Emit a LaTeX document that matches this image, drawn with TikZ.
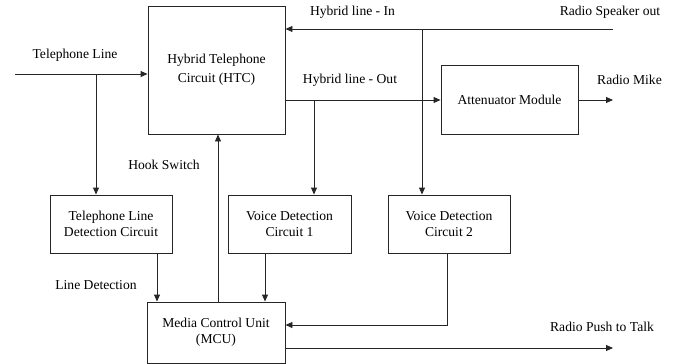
\documentclass[tikz,border=0pt]{standalone}
\usepackage{fontspec}
\setmainfont{Liberation Serif}
\usetikzlibrary{arrows.meta,calc}
\begin{document}
\begin{tikzpicture}[x=1pt,y=-1pt,
  font=\fontsize{13.6}{16}\selectfont,
  block/.style={draw=black!85, line width=0.9pt, fill=white, align=center, inner sep=0pt},
  lbl/.style={inner sep=0pt, anchor=center},
  wire/.style={draw=black!85, line width=0.9pt},
  arr/.style={wire, -{Triangle[length=7pt,width=6pt]}}]
\useasboundingbox (0,0) rectangle (678,364);

% blocks
\node[block, minimum width=137pt, minimum height=128pt, font=\fontsize{13.6}{19}\selectfont] (htc) at (216.5,70) {Hybrid Telephone\\Circuit (HTC)};
\node[block, minimum width=137pt, minimum height=69pt] (att) at (509.5,99.5) {Attenuator Module};
\node[block, minimum width=122pt, minimum height=58pt] (tld) at (111,224) {Telephone Line\\Detection Circuit};
\node[block, minimum width=123pt, minimum height=58pt] (vdc1) at (289.5,224) {Voice Detection\\Circuit 1};
\node[block, minimum width=122pt, minimum height=58pt] (vdc2) at (449,224) {Voice Detection\\Circuit 2};
\node[block, minimum width=138pt, minimum height=61pt] (mcu) at (216,332.5) {Media Control Unit\\(MCU)};

% labels
\node[lbl] (ltel) at (75,55) {Telephone Line};
\node[lbl] (lin) at (352.5,12) {Hybrid line - In};
\node[lbl] (lspk) at (610,12) {Radio Speaker out};
\node[lbl] (lout) at (350,80) {Hybrid line - Out};
\node[lbl] (lmike) at (629.5,80) {Radio Mike};
\node[lbl] (lhook) at (164,165) {Hook Switch};
\node[lbl] (ldet) at (96,285) {Line Detection};
\node[lbl] (lptt) at (602,327) {Radio Push to Talk};

% free ends and junctions
\coordinate (telin) at (15,74);
\coordinate (jtel) at (96,74);
\coordinate (spk) at (613,29);
\coordinate (jin) at (422,29);
\coordinate (hout) at (285,100);
\coordinate (jout) at (314,100);
\coordinate (mike) at (613,100);
\coordinate (hook) at (218,302);
\coordinate (ldx) at (157,253);
\coordinate (v1x) at (265,253);
\coordinate (v2x) at (447,253);
\coordinate (v2turn) at (447,325);
\coordinate (pttfrom) at (285,348);
\coordinate (ptt) at (613,348);

% connectors
\draw[arr] (telin) -- (telin -| htc.west);
\draw[arr] (jtel) -- (jtel |- tld.north);
\draw[arr] (spk) -- (spk -| htc.east);
\draw[arr] (jin) -- (jin |- vdc2.north);
\draw[arr] (hout) -- (hout -| att.west);
\draw[arr] (jout) -- (jout |- vdc1.north);
\draw[arr] (att.east |- mike) -- (mike);
\draw[arr] (hook) -- (hook |- htc.south);
\draw[arr] (ldx) -- (ldx |- mcu.north);
\draw[arr] (v1x) -- (v1x |- mcu.north);
\draw[arr] (v2x) -- (v2turn) -- (v2turn -| mcu.east);
\draw[arr] (pttfrom) -- (ptt);
\end{tikzpicture}
\end{document}
